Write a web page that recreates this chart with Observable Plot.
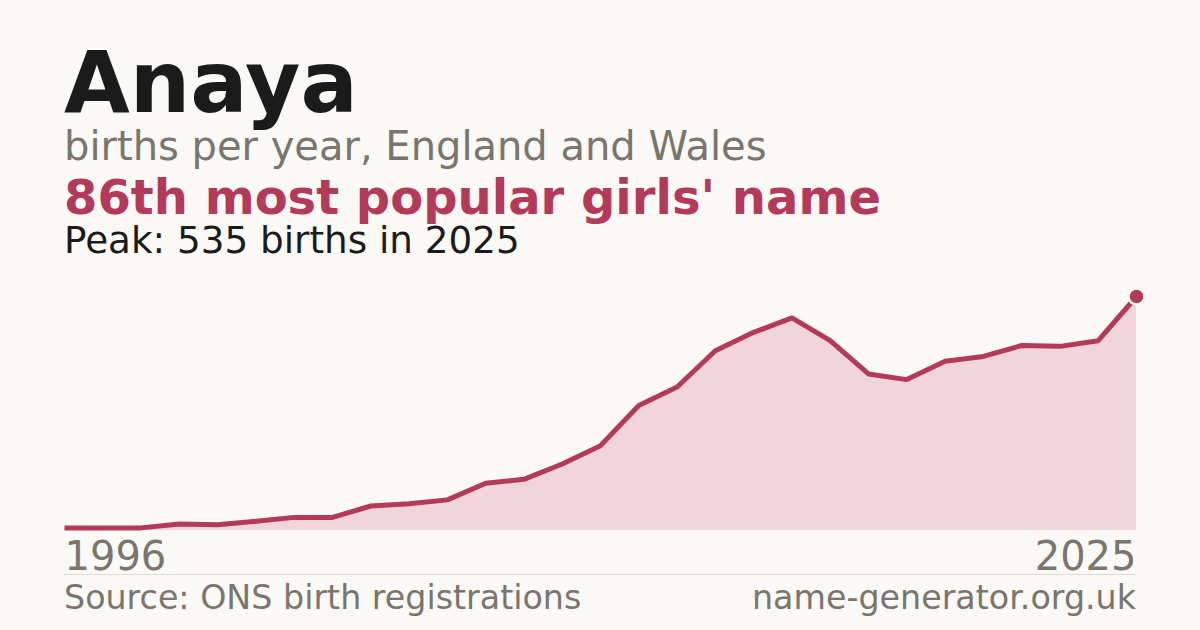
<!DOCTYPE html>
<html>
<head>
<meta charset="utf-8">
<script src="https://cdn.jsdelivr.net/npm/d3@7"></script>
<script src="https://cdn.jsdelivr.net/npm/@observablehq/plot@0.6"></script>
<style>
  html, body { margin: 0; padding: 0; background: #faf9f5; }
  body { width: 1200px; height: 630px; position: relative; overflow: hidden; font-family: "DejaVu Sans", sans-serif; }
  .t { position: absolute; left: 64px; line-height: 0.8; white-space: nowrap; }
  #title { top: 49.3px; font-size: 85px; font-weight: bold; color: #1b1b1b; }
  #sub { top: 129.5px; font-size: 40px; color: #7a756d; }
  #rank { top: 178.2px; font-size: 48px; font-weight: bold; color: #b33a58; }
  #peak { top: 225.5px; font-size: 37.3px; color: #1b1b1b; }
  #chart { position: absolute; left: 0; top: 270px; }
  #rule { position: absolute; left: 64px; width: 1072px; top: 573.5px; height: 1px; background: #dedbd4; }
  .foot { position: absolute; top: 584.5px; font-size: 33.3px; color: #7a756d; line-height: 0.8; white-space: nowrap; }
  #src { left: 64px; }
  #site { right: 64px; }
</style>
</head>
<body>
<div class="t" id="title"></div>
<div class="t" id="sub"></div>
<div class="t" id="rank"></div>
<div class="t" id="peak"></div>
<div id="chart"></div>
<div id="rule"></div>
<div class="foot" id="src"></div>
<div class="foot" id="site"></div>
<script>
// ---- data ----
const nameText = "Anaya";
const subtitleText = "births per year, England and Wales";
const rankText = "86th most popular girls' name";
const sourceText = "Source: ONS birth registrations";
const siteText = "name-generator.org.uk";
const tickLabels = ["1996", "2025"];
const peakYear = "2025";
const births = [6, 6, 6, 15, 13, 21, 30, 30, 56, 61, 70, 108, 117, 152, 194, 286, 328, 411, 453, 486, 434, 358, 345, 387, 398, 423, 421, 434, 535];

// ---- build ----
const data = births.map((v, i) => ({i, v}));
const last = data[data.length - 1];
const peak = d3.max(births);

document.getElementById("title").textContent = nameText;
document.getElementById("sub").textContent = subtitleText;
document.getElementById("rank").textContent = rankText;
document.getElementById("peak").textContent = `Peak: ${peak} births in ${peakYear}`;
document.getElementById("src").textContent = sourceText;
document.getElementById("site").textContent = siteText;

const red = "#b33a58";
const chart = Plot.plot({
  width: 1200,
  height: 310,
  marginLeft: 64,
  marginRight: 64,
  marginTop: 26,
  marginBottom: 50,
  style: {background: "transparent", fontFamily: "DejaVu Sans, sans-serif", overflow: "visible"},
  x: {domain: [0, births.length - 1], axis: null},
  y: {domain: [0, peak], axis: null},
  marks: [
    Plot.areaY(data, {x: "i", y: "v", fill: "#f1d5da"}),
    Plot.lineY(data, {x: "i", y: "v", stroke: red, strokeWidth: 5, strokeLinecap: "butt", strokeLinejoin: "miter"}),
    Plot.dot([last], {x: "i", y: "v", r: 8, fill: red, stroke: "#faf9f5", strokeWidth: 2.5}),
    Plot.text([{i: 0, label: tickLabels[0]}], {x: "i", y: () => 0, text: "label", textAnchor: "start", lineAnchor: "top", dy: 11, fontSize: 40, fill: "#7a756d"}),
    Plot.text([{i: births.length - 1, label: tickLabels[1]}], {x: "i", y: () => 0, text: "label", textAnchor: "end", lineAnchor: "top", dy: 11, fontSize: 40, fill: "#7a756d"})
  ]
});
document.getElementById("chart").appendChild(chart);
</script>
</body>
</html>
